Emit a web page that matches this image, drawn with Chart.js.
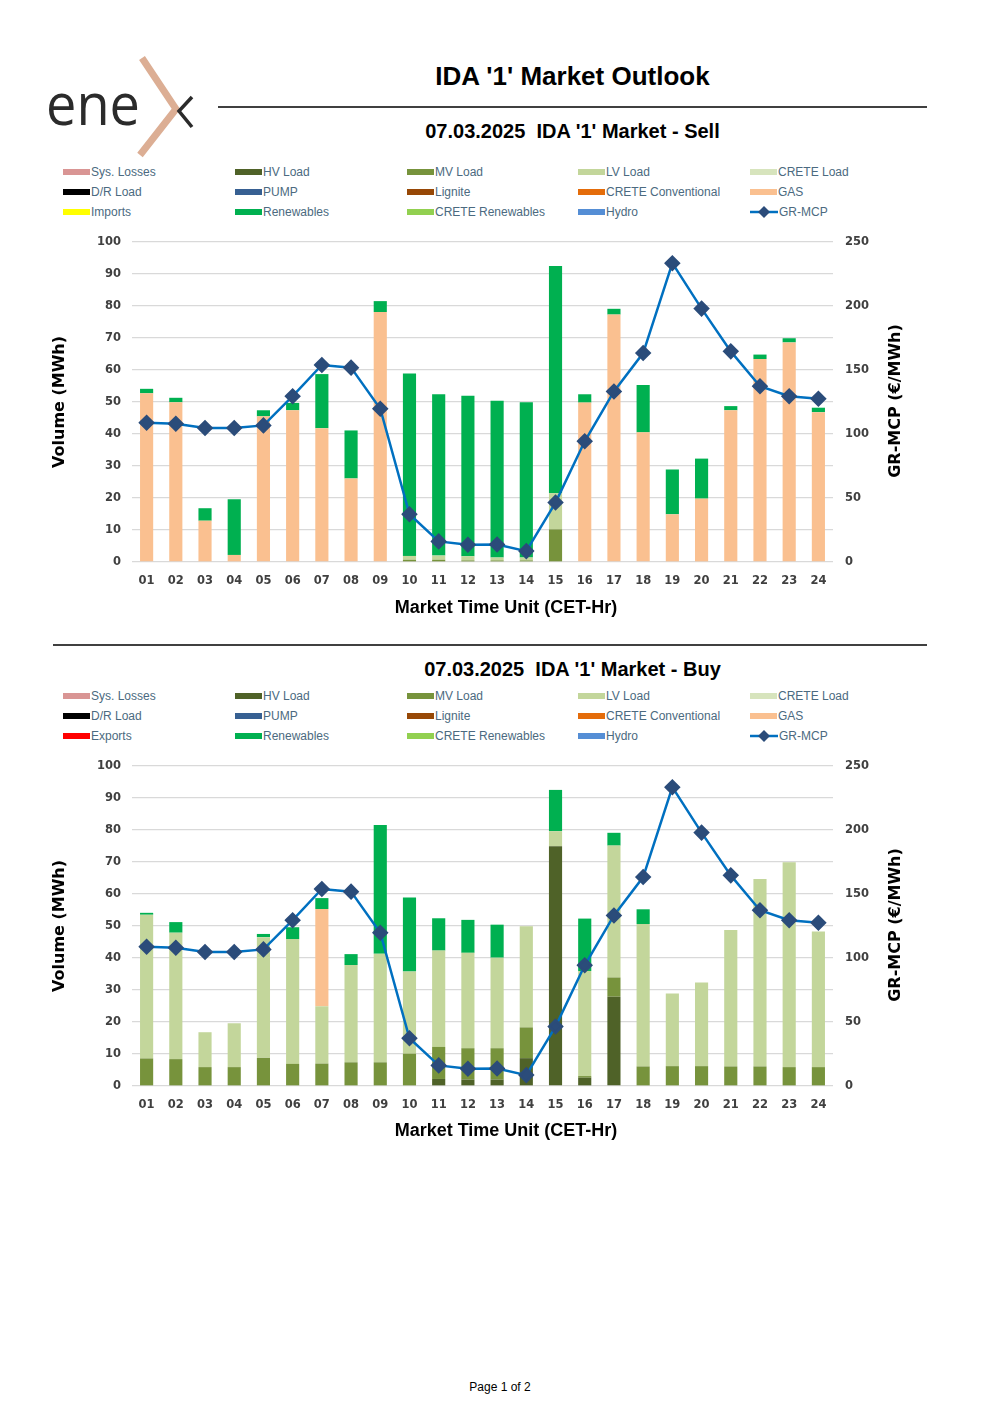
<!DOCTYPE html>
<html>
<head>
<meta charset="utf-8">
<title>IDA '1' Market Outlook</title>
<script src="https://cdn.jsdelivr.net/npm/chart.js@4.4.1/dist/chart.umd.min.js"></script>
<style>
    body { margin: 0; background: #fff; width: 1000px; height: 1415px; position: relative; overflow: hidden;
           font-family: "Liberation Sans", Arial, sans-serif; }
    .abs { position: absolute; }
    .title { left: 218px; width: 709px; text-align: center; font-weight: bold; color: #000; }
    .rule { background: #404040; height: 2px; }
    .legend-item { position: absolute; font-size: 12px; color: #4b6a80; line-height: 14px; white-space: nowrap; }
    .legend-item .sw { display: inline-block; width: 27px; height: 6px; vertical-align: middle; margin-right: 1px; position: relative; top: -1px; }
    .chart-box { position: absolute; left: 0; width: 1000px; height: 397px; }
    .x-title { left: 306px; width: 400px; text-align: center; font-size: 18px; line-height: 20px; font-weight: bold; color: #000; }
    .y1-title { left: 795px; width: 200px; height: 20px; line-height: 20px; text-align: center; transform: rotate(-90deg);
                font-family: "DejaVu Sans", sans-serif; font-size: 16px; font-weight: bold; color: #000; white-space: nowrap; }
</style>
</head>
<body>

<!-- logo -->
<svg class="abs" style="left:40px;top:55px" width="170" height="105" viewBox="0 0 170 105">
    <text x="6" y="70" font-family="Open Sans, Noto Sans, sans-serif" font-weight="400" font-size="58"
          fill="#2b2b2b" textLength="94" lengthAdjust="spacingAndGlyphs">ene</text>
    <polyline points="102,3 136,54 100,100" fill="none" stroke="#dcae94" stroke-width="7"/>
    <polyline points="152,42 139,56 152,72" fill="none" stroke="#2b2b2b" stroke-width="3.5"/>
</svg>

<div class="abs title" style="top:61px;font-size:26px">IDA '1' Market Outlook</div>
<div class="abs rule" style="left:218px;top:106px;width:709px"></div>
<div class="abs title" style="top:120px;font-size:20px">07.03.2025&nbsp;&nbsp;IDA '1' Market - Sell</div>
<div id="legendSell"></div>
<div class="chart-box" style="top:223px"><canvas id="sellChart"></canvas></div>
<div class="abs x-title" style="top:597px">Market Time Unit (CET-Hr)</div>
<div class="abs y1-title" style="top:391px">GR-MCP (€/MWh)</div>

<div class="abs rule" style="left:53px;top:644px;width:874px"></div>
<div class="abs title" style="top:658px;font-size:20px">07.03.2025&nbsp;&nbsp;IDA '1' Market - Buy</div>
<div id="legendBuy"></div>
<div class="chart-box" style="top:747px"><canvas id="buyChart"></canvas></div>
<div class="abs x-title" style="top:1120px">Market Time Unit (CET-Hr)</div>
<div class="abs y1-title" style="top:915px">GR-MCP (€/MWh)</div>

<div class="abs" style="left:0;width:1000px;top:1380px;text-align:center;font-size:12px">Page 1 of 2</div>

<script>
// 市场时段 (CET 小时)
const hours = ['01', '02', '03', '04', '05', '06', '07', '08', '09', '10', '11', '12',
               '13', '14', '15', '16', '17', '18', '19', '20', '21', '22', '23', '24'];

// GR-MCP 价格 (€/MWh)，买卖两图相同
const mcpPrice = [108.8, 108.0, 104.7, 104.7, 106.7, 129.5, 153.9, 151.8, 119.7, 37.3, 16.1, 13.5,
                  13.7, 8.5, 46.4, 94.3, 133.2, 163.2, 233.4, 197.9, 164.5, 137.3, 129.5, 127.5];

// Sell 侧 (MWh)
const sellMvLoad = [0, 0, 0, 0, 0, 0, 0, 0, 0, 0.7, 0.7, 0.5,
                    0.5, 0.5, 10.2, 0, 0, 0, 0, 0, 0, 0, 0, 0];
const sellLvLoad = [0, 0, 0, 0, 0, 0, 0, 0, 0, 1.2, 1.3, 1.3,
                    0.9, 0.9, 11.3, 0, 0, 0, 0, 0, 0, 0, 0, 0];
const sellGas = [52.7, 49.9, 12.9, 2.2, 45.5, 47.4, 41.8, 26.1, 78.1, 0, 0, 0,
                 0, 0, 0, 49.8, 77.3, 40.5, 14.9, 19.8, 47.4, 63.4, 68.6, 46.8];
const sellRenewables = [1.4, 1.4, 3.9, 17.4, 1.9, 2.3, 16.9, 15.0, 3.4, 57.0, 50.4, 50.1,
                        49.0, 48.5, 71.0, 2.6, 1.8, 14.8, 14.0, 12.5, 1.3, 1.4, 1.3, 1.4];

// Buy 侧 (MWh)
const buyHvLoad = [0, 0, 0, 0, 0, 0, 0, 0, 0, 0, 2.2, 2.0,
                   2.0, 8.7, 74.9, 2.6, 27.9, 0, 0, 0, 0, 0, 0, 0];
const buyMvLoad = [8.6, 8.4, 5.9, 5.9, 8.8, 6.9, 7.0, 7.4, 7.4, 10.1, 10.0, 9.8,
                   9.8, 9.6, 0, 0.5, 6.0, 6.1, 6.2, 6.2, 6.1, 6.1, 5.9, 5.9];
const buyLvLoad = [44.9, 39.5, 10.9, 13.7, 37.7, 39.0, 17.9, 30.4, 33.9, 25.7, 30.1, 29.8,
                   28.3, 31.6, 4.7, 32.8, 41.2, 44.5, 22.7, 26.1, 42.6, 58.6, 64.0, 42.4];
const buyGas = [0, 0, 0, 0, 0, 0, 30.4, 0, 0, 0, 0, 0,
                0, 0, 0, 0, 0, 0, 0, 0, 0, 0, 0, 0];
const buyRenewables = [0.6, 3.3, 0, 0, 1.0, 3.7, 3.4, 3.4, 40.2, 23.1, 10.1, 10.3,
                       10.3, 0, 12.9, 16.4, 4.0, 4.6, 0, 0, 0, 0, 0, 0];

// 坐标轴刻度
const volumeTicks = [0, 10, 20, 30, 40, 50, 60, 70, 80, 90, 100];
const priceTicks = [0, 50, 100, 150, 200, 250];

const COLORS = {
    sysLosses: '#d99594', hvLoad: '#4f6228', mvLoad: '#77933c', lvLoad: '#c3d69b',
    creteLoad: '#d7e4bd', drLoad: '#000000', pump: '#376092', lignite: '#974806',
    creteConv: '#e46c0a', gas: '#fac090', imports: '#ffff00', exports: '#ff0000',
    renewables: '#00b050', creteRen: '#92d050', hydro: '#558ed5',
    mcpLine: '#0070c0', mcpMarker: '#2b4c7a'
};

/**
 * 图例 (HTML, 5 列 x 3 行)
 */
function buildLegend(containerId, top, lastRowFirst) {
    const items = [
        ['Sys. Losses', COLORS.sysLosses], ['HV Load', COLORS.hvLoad], ['MV Load', COLORS.mvLoad],
        ['LV Load', COLORS.lvLoad], ['CRETE Load', COLORS.creteLoad],
        ['D/R Load', COLORS.drLoad], ['PUMP', COLORS.pump], ['Lignite', COLORS.lignite],
        ['CRETE Conventional', COLORS.creteConv], ['GAS', COLORS.gas],
        lastRowFirst, ['Renewables', COLORS.renewables], ['CRETE Renewables', COLORS.creteRen],
        ['Hydro', COLORS.hydro], ['GR-MCP', null]
    ];
    const colX = [63, 235, 407, 578, 750];
    const box = document.getElementById(containerId);
    items.forEach((item, i) => {
        const el = document.createElement('div');
        el.className = 'legend-item';
        el.style.left = colX[i % 5] + 'px';
        el.style.top = (top + Math.floor(i / 5) * 20 - 7) + 'px';
        if (item[1]) {
            el.innerHTML = '<span class="sw" style="background:' + item[1] + '"></span>' + item[0];
        } else {
            el.innerHTML = '<svg width="28" height="14" style="vertical-align:middle;margin-right:1px;position:relative;top:-1px">' +
                '<line x1="0" y1="7" x2="28" y2="7" stroke="' + COLORS.mcpLine + '" stroke-width="2.5"/>' +
                '<polygon points="14,1 20,7 14,13 8,7" fill="' + COLORS.mcpMarker + '"/></svg>' + item[0];
        }
        box.appendChild(el);
    });
}

buildLegend('legendSell', 172, ['Imports', COLORS.imports]);
buildLegend('legendBuy', 696, ['Exports', COLORS.exports]);

Chart.defaults.font.family = '"DejaVu Sans", sans-serif';
Chart.defaults.color = '#404040';

function barSet(label, data, color) {
    return {
        type: 'bar', label, data, backgroundColor: color, borderWidth: 0,
        stack: 'vol', yAxisID: 'y', order: 1,
        barPercentage: 0.45, categoryPercentage: 1.0
    };
}

/**
 * 创建组合图 (堆积柱 + 价格线)
 */
function makeChart(canvasId, bars) {
    const ctx = document.getElementById(canvasId).getContext('2d');
    const tickFont = { size: 11.5, weight: 'bold' };
    return new Chart(ctx, {
        data: {
            labels: hours,
            datasets: [
                {
                    type: 'line', label: 'GR-MCP', data: mcpPrice, yAxisID: 'y1', order: 0,
                    borderColor: COLORS.mcpLine, borderWidth: 2.5, tension: 0,
                    pointStyle: 'rectRot', pointRadius: 6.5,
                    pointBackgroundColor: COLORS.mcpMarker, pointBorderColor: COLORS.mcpMarker
                },
                ...bars
            ]
        },
        options: {
            responsive: true,
            maintainAspectRatio: false,
            animation: false,
            layout: { padding: { left: 46, right: 91, top: 10, bottom: 0 } },
            plugins: { legend: { display: false }, tooltip: { enabled: false } },
            scales: {
                x: {
                    stacked: true,
                    grid: { display: false },
                    border: { display: false },
                    ticks: { font: tickFont, padding: 4, maxRotation: 0, autoSkip: false },
                    afterFit: s => { s.height = 58; }
                },
                y: {
                    stacked: true, position: 'left', min: 0, max: 100,
                    afterBuildTicks: s => { s.ticks = volumeTicks.map(v => ({ value: v })); },
                    grid: { color: '#d9d9d9', lineWidth: 1.3, drawTicks: false },
                    border: { display: false },
                    ticks: { font: tickFont, padding: 11 },
                    title: { display: true, text: 'Volume (MWh)', color: '#000', font: { size: 16, weight: 'bold' } },
                    afterFit: s => { s.width = 86; }
                },
                y1: {
                    position: 'right', min: 0, max: 250,
                    afterBuildTicks: s => { s.ticks = priceTicks.map(v => ({ value: v })); },
                    grid: { display: false, drawTicks: false },
                    border: { display: false },
                    ticks: { font: tickFont, padding: 12 },
                    afterFit: s => { s.width = 76; }
                }
            }
        }
    });
}

makeChart('sellChart', [
    barSet('MV Load', sellMvLoad, COLORS.mvLoad),
    barSet('LV Load', sellLvLoad, COLORS.lvLoad),
    barSet('GAS', sellGas, COLORS.gas),
    barSet('Renewables', sellRenewables, COLORS.renewables)
]);

makeChart('buyChart', [
    barSet('HV Load', buyHvLoad, COLORS.hvLoad),
    barSet('MV Load', buyMvLoad, COLORS.mvLoad),
    barSet('LV Load', buyLvLoad, COLORS.lvLoad),
    barSet('GAS', buyGas, COLORS.gas),
    barSet('Renewables', buyRenewables, COLORS.renewables)
]);
</script>
</body>
</html>
